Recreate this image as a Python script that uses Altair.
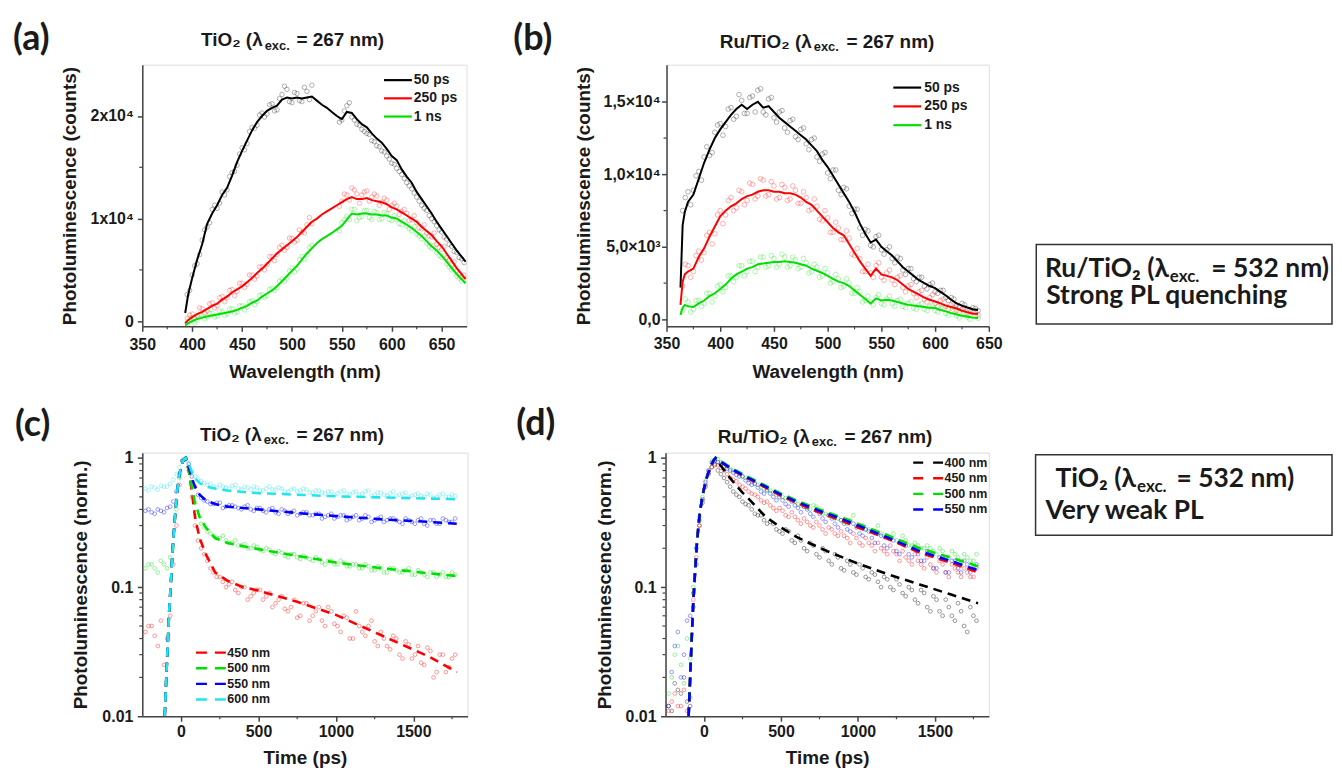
import altair as alt
import pandas as pd

AX_FONT = "Liberation Sans"
BOX_FONT = "Lato"
INK = "#1a1a1a"
FRAME = "#444444"
DUMMY = pd.DataFrame({"d": [0]})

# ---------------- Panel (a): TiO2 spectra ----------------
A_SERIES = ["50 ps", "250 ps", "1 ns"]
A_COLORS = ["#000000", "#ff0000", "#00e000"]
A_LINE_X = [393, 396] + list(range(400, 671, 5)) + [674]
A_LINE_50PS = [800, 2600,
               4200, 6000, 7500, 9500, 10500, 11300, 12300, 13000, 14200, 15500,
               16600, 17600, 18600, 19400, 20000, 20500, 20800, 21000, 21600, 21800,
               21700, 21800, 21700, 21800, 21900, 21500, 21100, 20800, 20400, 20000,
               19700, 20400, 20300, 19700, 19200, 18900, 18300, 17800, 17400, 16800,
               16100, 15700, 14800, 14100, 13500, 12600, 11900, 11200, 10500, 9700,
               9000, 8300, 7600, 6900, 6300,
               5800]
A_LINE_250PS = [-200, 100,
                400, 700, 900, 1200, 1500, 1700, 2100, 2400, 2800, 3100,
                3400, 3800, 4200, 4700, 5100, 5600, 6100, 6600, 7000, 7400,
                7800, 8200, 8700, 9200, 9700, 10000, 10400, 10700, 11000, 11300,
                11600, 11900, 12100, 11900, 11900, 12000, 11800, 11700, 11600, 11400,
                11100, 10900, 10600, 10300, 10000, 9700, 9200, 8800, 8400, 7800,
                7300, 6600, 5900, 5200, 4600,
                4100]
A_LINE_1NS = [-400, -200,
              0, 200, 350, 450, 550, 650, 750, 850, 950, 1100,
              1300, 1500, 1800, 2000, 2400, 2700, 3000, 3400, 3900, 4400,
              4900, 5400, 6000, 6600, 7100, 7600, 8000, 8300, 8600, 8950,
              9300, 9900, 10500, 10400, 10500, 10500, 10400, 10400, 10300, 10300,
              10100, 10000, 9700, 9400, 9100, 8700, 8300, 7800, 7300, 6900,
              6400, 5800, 5200, 4600, 4100,
              3700]
A_PTS_X = list(range(395, 671, 5))
A_PTS_50PS = [2600, 4500, 5600, 7900, 9200, 10900, 11000, 12600, 12800, 14500,
              15200, 16900, 17300, 18900, 19100, 20300, 20200, 21200, 20600, 22100,
              22600, 21300, 22200, 21400, 22400, 23000, None, None, None, None,
              None, 19600, 21000, 19900, 19200, 18700, 18300, 17600, 17100, 16600,
              16100, 15400, 14900, 14300, 13500, 12900, 12100, 11300, 10800, 10000,
              9300, 8700, 8000, 7300, 6700, 6100]
A_PTS_250PS = [300, 700, 500, 1200, 1000, 1800, 1500, 2400, 2300, 3100,
               2900, 3700, 3600, 4500, 4400, 5300, 5500, 6300, 6500, 7400,
               7200, 8100, 7900, 8700, 9400, 9500, None, None, None, None,
               None, 11700, 12300, 13000, 12400, 12300, 12700, 12100, 12200, 11600,
               11800, 11300, 11200, 10700, 10500, 9900, 9600, 9000, 8600, 8200,
               7500, 7000, 6200, 5500, 4900, 4300]
A_PTS_1NS = [-100, 300, 100, 600, 400, 800, 500, 900, 700, 1200,
             900, 1500, 1400, 2000, 1900, 2600, 2500, 3200, 3300, 4100,
             4200, 5200, 5100, 6300, 6500, 7400, None, None, None, None,
             None, 9600, 10200, 10900, 9800, 10200, 10800, 9900, 10600, 10000,
             10500, 9800, 9900, 9400, 9300, 8800, 8500, 8000, 7600, 7100,
             6700, 6200, 5600, 5000, 4400, 3900]
A_PTS2_X = [397.5 + 5 * i for i in range(56)]
A_PTS2_50PS = [3000, 5400, 6500, 8900, 9600, 11300, 11500, 12300, 14100, 14600,
               16300, 16700, 18500, 18800, 20100, 19900, 21100, 20500, 21700, 22900,
               21400, 22300, 21500, 22800, 21600, None, None, None, None, None,
               19400, 20500, 21300, 19600, 19100, 18500, 18200, 17500, 17000, 16500,
               15800, 15300, 14600, 13900, 13200, 12500, 11700, 11000, 10300, 9700,
               8900, 8200, 7500, 6800, 6200, 5700]
A_PTS2_250PS = [600, 300, 1300, 800, 1700, 1300, 2300, 1900, 3000, 2500,
                3700, 3300, 4500, 4100, 5300, 5000, 6300, 5900, 7200, 6900,
                8100, 7700, 8900, 8600, 10100, None, None, None, None, None,
                11200, 12400, 11800, 12800, 11500, 12600, 11700, 12400, 11300, 12000,
                10900, 11500, 10400, 10900, 9800, 10300, 9100, 9400, 8300, 8600,
                7200, 7300, 6000, 5800, 4700, 4500]
A_PTS2_1NS = [200, -200, 600, 200, 800, 400, 1000, 600, 1200, 800,
              1500, 1100, 1900, 1600, 2500, 2300, 3100, 3000, 3900, 3900,
              4900, 4800, 6000, 6000, 7200, None, None, None, None, None,
              8800, 9900, 9900, 10900, 10100, 10800, 10100, 10700, 9900, 10600,
              9900, 10300, 9500, 9800, 9000, 9200, 8300, 8300, 7300, 7400,
              6400, 6400, 5300, 5100, 4200, 4100]
A_X_TICKS = [350, 400, 450, 500, 550, 600, 650]
A_X_LABELS = ["350", "400", "450", "500", "550", "600", "650"]
A_X_MINOR = [375, 425, 475, 525, 575, 625]
A_Y_TICKS = [0, 10000, 20000]
A_Y_LABELS = ["0", "1x10⁴", "2x10⁴"]
A_Y_MINOR = [5000, 15000]

# ---------------- Panel (b): Ru/TiO2 spectra ----------------
B_LINE_X = [363, 365, 367] + list(range(370, 641, 5))
B_LINE_50PS = [2200, 6500, 7400,
               8100, 8600, 9700, 10800, 11700, 12500, 13100, 13600, 14100, 14500,
               14800, 14500, 14800, 15000, 14600, 14700, 14300, 13900, 13600, 13300,
               13000, 12700, 12400, 12000, 11600, 11000, 10500, 9900, 9300, 8700,
               8100, 7400, 6600, 5900, 5300, 5500, 5000, 4700, 4400, 4000,
               3600, 3300, 3000, 2700, 2500, 2300, 2150, 1900, 1650, 1350,
               1100, 950, 820, 700, 650]
B_LINE_250PS = [1000, 2600, 3100,
                3300, 3500, 4300, 4900, 5700, 6400, 7100, 7500, 7800, 8000,
                8300, 8500, 8600, 8800, 8900, 8900, 8800, 8800, 8700, 8700,
                8600, 8400, 8100, 7900, 7500, 7100, 6700, 6300, 6000, 5800,
                5200, 4600, 4000, 3500, 3000, 3500, 3100, 3000, 2900, 2700,
                2400, 2100, 1900, 1700, 1500, 1350, 1230, 1100, 950, 850,
                750, 600, 480, 400, 370]
B_LINE_1NS = [300, 800, 1000,
              900, 850, 1100, 1300, 1600, 1800, 2100, 2400, 2800, 3100,
              3300, 3500, 3600, 3800, 3850, 3900, 3950, 3950, 4000, 3950,
              3900, 3800, 3700, 3500, 3350, 3200, 3000, 2800, 2600, 2500,
              2300, 2000, 1700, 1400, 1100, 1450, 1300, 1350, 1300, 1200,
              1100, 1000, 950, 900, 850, 800, 780, 650, 550, 430,
              330, 250, 180, 120, 100]
B_PTS_X = list(range(365, 641, 5))
B_PTS_50PS = [7500, 8800, 8900, 10200, 11200, 11300, 12900, 13500, 13300, 14600,
              14000, 15100, 14200, 15400, 15800, 14300, 15200, 13900, 14300, 13200,
              13700, 12600, 13100, 12100, 12400, 11200, 11400, 10100, 10300, 8900,
              9100, 7800, 7600, 6300, 6200, 5100, 5700, 4800, 4800, 4200,
              4300, 3400, 3500, 2800, 2900, 2300, 2400, 1900, 2000, 1500,
              1500, 1000, 1100, 700, 800, 600]
B_PTS_250PS = [2300, 3700, 3300, 4700, 4600, 6000, 5900, 7500, 7200, 8400,
               7700, 8800, 8200, 9300, 8500, 9600, 8600, 9200, 8400, 9100,
               8300, 8900, 8000, 8400, 7600, 7800, 6800, 7000, 6000, 6300,
               5500, 5600, 4400, 4200, 3300, 3200, 3700, 2900, 3200, 2700,
               2900, 2200, 2300, 1800, 1900, 1400, 1500, 1100, 1300, 900,
               1000, 600, 700, 400, 500, 300]
B_PTS_1NS = [600, 1200, 700, 1300, 1100, 1800, 1600, 2400, 2200, 3000,
             2900, 3700, 3300, 4000, 3600, 4300, 3700, 4200, 3800, 4300,
             3700, 4100, 3600, 3900, 3300, 3600, 3000, 3200, 2600, 2800,
             2300, 2500, 1800, 1900, 1300, 1200, 1500, 1100, 1400, 1100,
             1300, 900, 1100, 800, 1000, 700, 900, 600, 800, 400,
             600, 250, 400, 150, 250, 80]
B_PTS2_X = [367.5 + 5 * i for i in range(55)]
B_PTS2_50PS = [8400, 7900, 9900, 9600, 11900, 11500, 13400, 12700, 14500, 13800,
               15500, 14200, 15300, 14300, 15900, 14100, 15300, 13600, 14400, 12900,
               13800, 12400, 13200, 11700, 12500, 10900, 11500, 9700, 10300, 8600,
               9000, 7300, 7600, 5800, 6100, 5000, 5800, 4500, 5000, 3900,
               4200, 3100, 3500, 2600, 2900, 2100, 2500, 1800, 2000, 1300,
               1400, 900, 1000, 650, 750]
B_PTS2_250PS = [3800, 2900, 4400, 4100, 5800, 5200, 7200, 6600, 8200, 7500,
                8900, 7900, 9400, 8300, 9700, 8500, 9500, 8300, 9300, 8200,
                9200, 8000, 8800, 7500, 8300, 6900, 7500, 6000, 6700, 5500,
                6100, 4500, 4900, 3300, 3800, 2900, 3900, 2700, 3400, 2400,
                3000, 1900, 2400, 1500, 2000, 1200, 1700, 900, 1400, 700,
                1100, 500, 800, 300, 500]
B_PTS2_1NS = [1400, 500, 1300, 900, 1800, 1200, 2300, 1900, 3000, 2600,
              3700, 3000, 4000, 3300, 4300, 3600, 4400, 3600, 4500, 3600,
              4300, 3500, 4200, 3200, 3800, 2900, 3500, 2500, 3100, 2200,
              2800, 1800, 2200, 1200, 1600, 1000, 1700, 1000, 1600, 900,
              1400, 800, 1200, 700, 1100, 600, 1000, 500, 800, 300,
              600, 100, 400, 0, 250]
B_X_TICKS = [350, 400, 450, 500, 550, 600, 650]
B_X_LABELS = ["350", "400", "450", "500", "550", "600", "650"]
B_X_MINOR = [375, 425, 475, 525, 575, 625]
B_Y_TICKS = [0, 5000, 10000, 15000]
B_Y_LABELS = ["0,0", "5,0×10³", "1,0×10⁴", "1,5×10⁴"]
B_Y_MINOR = [2500, 7500, 12500]

# ---------------- Panel (c): TiO2 kinetics ----------------
C_SERIES = ["450 nm", "500 nm", "550 nm", "600 nm"]
C_COLORS = ["#ff0000", "#00e000", "#0000ff", "#22e4f0"]
C_FIT_T = [-105, -95, -85, -77, -65, -56, -45, -35, -24, -10, 5, 20, 30,
           50, 70, 90, 120, 160, 220, 300, 400, 500, 750, 1000, 1300, 1600, 1780]
C_FIT_450 = [0.01, 0.02, 0.038, 0.063, 0.11, 0.18, 0.28, 0.4, 0.56, 0.75, 0.9, 0.98, 1.0,
             0.8, 0.55, 0.35, 0.24, 0.18, 0.13, 0.112, 0.1, 0.094, 0.077, 0.061, 0.042, 0.029, 0.022]
C_FIT_500 = [0.01, 0.02, 0.038, 0.063, 0.11, 0.18, 0.28, 0.4, 0.56, 0.75, 0.9, 0.98, 1.0,
             0.8, 0.6, 0.45, 0.35, 0.29, 0.24, 0.22, 0.207, 0.197, 0.175, 0.155, 0.14, 0.128, 0.122]
C_FIT_550 = [0.01, 0.02, 0.038, 0.063, 0.11, 0.18, 0.28, 0.4, 0.56, 0.75, 0.9, 0.98, 1.0,
             0.85, 0.7, 0.6, 0.52, 0.47, 0.44, 0.42, 0.41, 0.40, 0.375, 0.355, 0.335, 0.32, 0.31]
C_FIT_600 = [0.01, 0.02, 0.038, 0.063, 0.11, 0.18, 0.28, 0.4, 0.56, 0.75, 0.9, 0.98, 1.0,
             0.9, 0.78, 0.7, 0.64, 0.6, 0.58, 0.56, 0.545, 0.535, 0.52, 0.505, 0.495, 0.485, 0.48]
SCATTER_T = list(range(-230, 1771, 40))
SCATTER_T2 = list(range(-210, 1751, 40))
C_PTS_450 = [0.045, 0.05, 0.035, 0.025, 0.06, 0.3, 0.95, 0.8, 0.3, 0.2,
             0.16, 0.13, 0.12, 0.1, 0.11, 0.09, 0.1, 0.085, 0.095, 0.08,
             0.09, 0.075, 0.085, 0.065, 0.08, 0.06, 0.075, 0.06, 0.07, 0.05,
             0.065, 0.05, 0.06, 0.04, 0.065, 0.045, 0.05, 0.038, 0.045, 0.035,
             0.042, 0.03, 0.038, 0.028, 0.035, 0.025, 0.032, 0.022, 0.03, 0.024,
             0.03]
C_PTS_500 = [0.14, 0.15, 0.13, 0.15, 0.17, 0.4, 0.95, 0.85, 0.45, 0.31,
             0.27, 0.25, 0.24, 0.23, 0.22, 0.21, 0.215, 0.2, 0.205, 0.19,
             0.195, 0.18, 0.185, 0.17, 0.18, 0.165, 0.17, 0.16, 0.165, 0.15,
             0.16, 0.15, 0.155, 0.145, 0.15, 0.14, 0.145, 0.135, 0.14, 0.13,
             0.14, 0.13, 0.135, 0.125, 0.135, 0.125, 0.13, 0.12, 0.13, 0.12,
             0.125]
C_PTS_550 = [0.39, 0.38, 0.4, 0.38, 0.42, 0.55, 0.95, 0.9, 0.6, 0.49,
             0.46, 0.44, 0.45, 0.42, 0.43, 0.41, 0.42, 0.4, 0.41, 0.39,
             0.4, 0.38, 0.4, 0.37, 0.39, 0.37, 0.38, 0.36, 0.37, 0.35,
             0.37, 0.35, 0.36, 0.34, 0.36, 0.34, 0.35, 0.33, 0.35, 0.33,
             0.34, 0.32, 0.34, 0.32, 0.33, 0.31, 0.33, 0.31, 0.34, 0.32,
             0.34]
C_PTS_600 = [0.58, 0.6, 0.57, 0.6, 0.63, 0.75, 0.97, 0.92, 0.72, 0.66,
             0.62, 0.6, 0.62, 0.59, 0.61, 0.58, 0.6, 0.57, 0.59, 0.56,
             0.6, 0.57, 0.58, 0.55, 0.58, 0.56, 0.57, 0.54, 0.56, 0.53,
             0.55, 0.53, 0.56, 0.52, 0.55, 0.53, 0.56, 0.52, 0.54, 0.51,
             0.55, 0.52, 0.54, 0.51, 0.53, 0.5, 0.52, 0.5, 0.53, 0.5,
             0.51]
C_PTS2_450 = [0.05, 0.042, 0.055, 0.04, 0.15, 0.62, 0.98, 0.5, 0.23, 0.18,
              0.14, 0.12, 0.11, 0.105, 0.095, 0.1, 0.08, 0.09, 0.095, 0.085,
              0.07, 0.08, 0.068, 0.07, 0.058, 0.075, 0.055, 0.065, 0.055, 0.07,
              0.052, 0.045, 0.058, 0.04, 0.05, 0.042, 0.055, 0.035, 0.04, 0.033,
              0.04, 0.028, 0.036, 0.03, 0.026, 0.034, 0.02, 0.03, 0.022, 0.028]
C_PTS2_500 = [0.15, 0.14, 0.16, 0.14, 0.2, 0.7, 1.0, 0.62, 0.36, 0.29,
              0.26, 0.24, 0.25, 0.22, 0.23, 0.21, 0.2, 0.21, 0.195, 0.2,
              0.185, 0.19, 0.175, 0.18, 0.17, 0.175, 0.165, 0.17, 0.155, 0.16,
              0.15, 0.16, 0.145, 0.15, 0.14, 0.15, 0.135, 0.145, 0.13, 0.14,
              0.135, 0.13, 0.14, 0.125, 0.13, 0.12, 0.13, 0.125, 0.12, 0.13]
C_PTS2_550 = [0.4, 0.37, 0.39, 0.41, 0.46, 0.75, 0.98, 0.72, 0.52, 0.47,
              0.44, 0.45, 0.41, 0.43, 0.42, 0.4, 0.43, 0.39, 0.41, 0.38,
              0.41, 0.37, 0.39, 0.38, 0.36, 0.38, 0.36, 0.37, 0.34, 0.36,
              0.34, 0.36, 0.33, 0.35, 0.33, 0.36, 0.32, 0.34, 0.32, 0.34,
              0.33, 0.31, 0.33, 0.31, 0.34, 0.3, 0.33, 0.31, 0.33, 0.32]
C_PTS2_600 = [0.56, 0.59, 0.61, 0.6, 0.68, 0.85, 1.0, 0.8, 0.69, 0.64,
              0.63, 0.59, 0.6, 0.58, 0.62, 0.57, 0.59, 0.6, 0.56, 0.58,
              0.57, 0.59, 0.55, 0.57, 0.55, 0.58, 0.54, 0.56, 0.54, 0.55,
              0.52, 0.55, 0.53, 0.54, 0.52, 0.55, 0.51, 0.54, 0.52, 0.53,
              0.51, 0.53, 0.5, 0.52, 0.51, 0.53, 0.49, 0.52, 0.5, 0.52]

# ---------------- Panel (d): Ru/TiO2 kinetics ----------------
D_SERIES = ["400 nm", "450 nm", "500 nm", "550 nm"]
D_COLORS = ["#000000", "#ff0000", "#00e000", "#0000ff"]
D_FIT_T = [-100, -90, -80, -70, -60, -45, -30, -15, 0, 20, 40, 60, 75,
           100, 150, 200, 250, 300, 400, 500, 600, 700, 800, 900, 1000, 1200, 1400, 1600, 1780]
D_FIT_400 = [0.01, 0.02, 0.04, 0.075, 0.12, 0.23, 0.35, 0.47, 0.58, 0.72, 0.84, 0.95, 1.0,
             0.9, 0.75, 0.63, 0.54, 0.47, 0.35, 0.29, 0.245, 0.215, 0.19, 0.17, 0.152, 0.125, 0.105, 0.088, 0.075]
D_FIT_450 = [0.01, 0.02, 0.04, 0.075, 0.12, 0.23, 0.35, 0.47, 0.58, 0.72, 0.84, 0.95, 1.0,
             0.95, 0.86, 0.79, 0.73, 0.68, 0.59, 0.51, 0.45, 0.40, 0.36, 0.325, 0.29, 0.235, 0.185, 0.155, 0.13]
D_FIT_500 = [0.01, 0.02, 0.04, 0.075, 0.12, 0.23, 0.35, 0.47, 0.58, 0.72, 0.84, 0.95, 1.0,
             0.96, 0.88, 0.81, 0.75, 0.7, 0.61, 0.53, 0.47, 0.42, 0.38, 0.345, 0.31, 0.25, 0.2, 0.17, 0.145]
D_FIT_550 = [0.01, 0.02, 0.04, 0.075, 0.12, 0.23, 0.35, 0.47, 0.58, 0.72, 0.84, 0.95, 1.0,
             0.95, 0.87, 0.8, 0.74, 0.69, 0.6, 0.52, 0.46, 0.41, 0.37, 0.335, 0.30, 0.24, 0.19, 0.16, 0.135]
D_PTS_400 = [0.012, 0.018, 0.015, 0.013, 0.07, 0.3, 0.6, 0.85, 0.8, 0.7,
             0.6, 0.52, 0.46, 0.43, 0.37, 0.36, 0.31, 0.31, 0.27, 0.28,
             0.23, 0.25, 0.2, 0.22, 0.18, 0.2, 0.16, 0.18, 0.14, 0.16,
             0.13, 0.15, 0.12, 0.13, 0.11, 0.12, 0.1, 0.115, 0.09, 0.1,
             0.08, 0.095, 0.07, 0.085, 0.065, 0.08, 0.06, 0.075, 0.05, 0.07,
             0.055]
D_PTS_450 = [0.011, 0.015, 0.012, 0.011, 0.08, 0.3, 0.62, 0.85, 0.88, 0.8,
             0.7, 0.66, 0.6, 0.55, 0.52, 0.47, 0.46, 0.41, 0.41, 0.36,
             0.38, 0.33, 0.34, 0.3, 0.32, 0.28, 0.29, 0.26, 0.27, 0.24,
             0.26, 0.22, 0.24, 0.21, 0.22, 0.19, 0.21, 0.18, 0.19, 0.16,
             0.18, 0.15, 0.17, 0.14, 0.16, 0.13, 0.15, 0.13, 0.14, 0.12,
             0.14]
D_PTS_500 = [0.015, 0.03, 0.025, 0.04, 0.1, 0.35, 0.67, 0.95, 0.98, 0.9,
             0.82, 0.78, 0.72, 0.68, 0.64, 0.6, 0.57, 0.54, 0.52, 0.49,
             0.47, 0.44, 0.42, 0.4, 0.42, 0.37, 0.36, 0.34, 0.33, 0.31,
             0.36, 0.29, 0.28, 0.27, 0.3, 0.25, 0.24, 0.23, 0.25, 0.21,
             0.22, 0.2, 0.21, 0.19, 0.2, 0.17, 0.19, 0.17, 0.18, 0.16,
             0.18]
D_PTS_550 = [0.012, 0.035, 0.02, 0.055, 0.09, 0.33, 0.65, 0.92, 0.93, 0.86,
             0.8, 0.74, 0.72, 0.64, 0.63, 0.55, 0.56, 0.5, 0.5, 0.44,
             0.46, 0.41, 0.42, 0.37, 0.39, 0.34, 0.36, 0.31, 0.33, 0.28,
             0.31, 0.26, 0.28, 0.24, 0.26, 0.21, 0.24, 0.19, 0.22, 0.18,
             0.2, 0.16, 0.19, 0.14, 0.17, 0.13, 0.16, 0.14, 0.16, 0.13,
             0.15]
D_PTS2_400 = [0.011, 0.016, 0.02, 0.012, 0.15, 0.45, 0.75, 0.88, 0.75, 0.65,
              0.55, 0.5, 0.44, 0.4, 0.36, 0.33, 0.32, 0.28, 0.26, 0.27,
              0.22, 0.23, 0.19, 0.21, 0.17, 0.19, 0.15, 0.17, 0.135, 0.15,
              0.125, 0.14, 0.115, 0.125, 0.1, 0.115, 0.095, 0.105, 0.085, 0.095,
              0.075, 0.09, 0.065, 0.08, 0.06, 0.07, 0.055, 0.065, 0.045, 0.06]
D_PTS2_450 = [0.013, 0.012, 0.016, 0.014, 0.17, 0.47, 0.77, 0.9, 0.84, 0.75,
              0.68, 0.62, 0.58, 0.53, 0.5, 0.45, 0.43, 0.39, 0.39, 0.35,
              0.35, 0.31, 0.32, 0.29, 0.3, 0.26, 0.28, 0.25, 0.25, 0.22,
              0.24, 0.21, 0.22, 0.19, 0.2, 0.18, 0.19, 0.16, 0.17, 0.15,
              0.16, 0.14, 0.15, 0.13, 0.15, 0.12, 0.14, 0.12, 0.13, 0.12]
D_PTS2_500 = [0.02, 0.035, 0.018, 0.028, 0.2, 0.5, 0.8, 0.97, 0.93, 0.86,
              0.8, 0.75, 0.7, 0.66, 0.62, 0.58, 0.56, 0.52, 0.5, 0.48,
              0.46, 0.43, 0.41, 0.43, 0.38, 0.37, 0.35, 0.34, 0.32, 0.33,
              0.3, 0.3, 0.28, 0.27, 0.26, 0.25, 0.26, 0.22, 0.23, 0.21,
              0.21, 0.2, 0.2, 0.18, 0.19, 0.17, 0.18, 0.16, 0.17, 0.16]
D_PTS2_550 = [0.022, 0.045, 0.03, 0.06, 0.2, 0.48, 0.8, 0.95, 0.9, 0.83,
              0.77, 0.72, 0.67, 0.62, 0.59, 0.53, 0.53, 0.47, 0.47, 0.42,
              0.43, 0.38, 0.4, 0.35, 0.37, 0.32, 0.34, 0.29, 0.31, 0.27,
              0.29, 0.25, 0.27, 0.22, 0.25, 0.2, 0.23, 0.18, 0.21, 0.17,
              0.18, 0.16, 0.18, 0.14, 0.17, 0.13, 0.16, 0.13, 0.15, 0.14]
T_X_TICKS = [0, 500, 1000, 1500]
T_X_LABELS = ["0", "500", "1000", "1500"]
T_X_MINOR = [250, 750, 1250, 1750]
T_Y_TICKS = [0.01, 0.1, 1]
T_Y_LABELS = ["0.01", "0.1", "1"]
T_Y_MINOR = [0.02, 0.03, 0.04, 0.05, 0.06, 0.07, 0.08, 0.09,
             0.2, 0.3, 0.4, 0.5, 0.6, 0.7, 0.8, 0.9]


def label_expr(values, labels):
    parts = [f"datum.value == {v} ? '{l}'" for v, l in zip(values, labels)]
    return " : ".join(parts) + " : ''"


AX = dict(labelFont=AX_FONT, labelFontSize=16, labelFontWeight="bold", labelColor=INK,
          titleFont=AX_FONT, titleFontSize=19, titleFontWeight="bold", titleColor=INK,
          tickSize=5, tickWidth=1.5, tickColor=FRAME, domainColor=FRAME, domainWidth=1.5,
          grid=False, labelOverlap=False, labelFlush=False)


def txt(s, x, y, size, align="left", font=AX_FONT, baseline="alphabetic"):
    return alt.Chart(DUMMY).mark_text(
        text=s, align=align, baseline=baseline, font=font, fontSize=size,
        fontWeight="bold", color=INK).encode(x=alt.value(x), y=alt.value(y))


def panel(cfg):
    W, H = cfg["w"], cfg["h"]
    xscale = alt.Scale(domain=cfg["xdom"], nice=False, zero=False)
    if cfg["ylog"]:
        yscale = alt.Scale(type="log", domain=cfg["ydom"], nice=False)
    else:
        yscale = alt.Scale(domain=cfg["ydom"], nice=False, zero=False)
    xax = alt.Axis(values=cfg["xt"], labelExpr=label_expr(cfg["xt"], cfg["xl"]),
                   title=cfg["xtitle"], titleY=cfg["xty"], titleBaseline="alphabetic",
                   labelPadding=cfg["xlp"], **AX)
    yax = alt.Axis(values=cfg["yt"], labelExpr=label_expr(cfg["yt"], cfg["yl"]),
                   title=cfg["ytitle"], titleX=cfg["ytx"], titleAngle=270,
                   titleBaseline="alphabetic", labelPadding=cfg["ylp"], **AX)
    xe = alt.X("x:Q", scale=xscale, axis=xax)
    ye = alt.Y("y:Q", scale=yscale, axis=yax)
    layers = []
    for px, py, col in cfg["points"]:
        df = pd.DataFrame({"x": px, "y": py}).dropna()
        layers.append(alt.Chart(df).mark_point(
            shape="circle", filled=False, size=cfg["psize"], strokeWidth=0.9,
            opacity=cfg["popac"], color=col, clip=True).encode(x=xe, y=ye))
    for lx, ly, col in cfg["lines"]:
        df = pd.DataFrame({"x": lx, "y": ly})
        kw = dict(color=col, strokeWidth=cfg["lw"], clip=True)
        if cfg["dash"]:
            kw["strokeDash"] = cfg["dash"]
        layers.append(alt.Chart(df).mark_line(**kw).encode(x=xe, y=ye))
    # minor ticks
    layers.append(alt.Chart(pd.DataFrame({"x": cfg["xminor"]})).mark_rule(
        color=FRAME, strokeWidth=1.2).encode(x=xe, y=alt.value(H), y2=alt.value(H + 3)))
    layers.append(alt.Chart(pd.DataFrame({"y": cfg["yminor"]})).mark_rule(
        color=FRAME, strokeWidth=1.2).encode(y=ye, x=alt.value(0), x2=alt.value(-3)))
    # legend
    lg = cfg["legend"]
    for i, (name, col) in enumerate(zip(lg["names"], lg["colors"])):
        yy = lg["y0"] + i * lg["dy"]
        kw = dict(color=col, strokeWidth=lg["sw"])
        if lg["dash"]:
            kw["strokeDash"] = lg["dash"]
        layers.append(alt.Chart(DUMMY).mark_rule(**kw).encode(
            x=alt.value(lg["x0"]), x2=alt.value(lg["x1"]), y=alt.value(yy)))
        layers.append(txt(name, lg["tx"], yy, lg["fs"], baseline="middle"))
    # title pieces
    t = cfg["title"]
    layers.append(txt(t["main"], t["xr"], t["base"], 19, align="right"))
    layers.append(txt("exc.", t["xs"], t["base"] + 3.5, 13))
    layers.append(txt(t["rest"], t["xe"], t["base"], 19))
    # panel label
    layers.append(txt(cfg["tag"][0], cfg["tag"][1], cfg["tag"][2], 36, font=BOX_FONT))
    layers.extend(cfg.get("extra", []))
    return alt.layer(*layers).properties(width=W, height=H)


def text_box(x0, x1, y0, y1, pieces):
    out = [alt.Chart(DUMMY).mark_rect(fillOpacity=0, stroke="#333333", strokeWidth=1.5).encode(
        x=alt.value(x0), x2=alt.value(x1), y=alt.value(y0), y2=alt.value(y1))]
    for s, x, y, fs, al in pieces:
        out.append(txt(s, x, y, fs, align=al, font=BOX_FONT))
    return out


anchor = alt.Chart(DUMMY).mark_rect(opacity=0).encode(
    x=alt.value(-134), x2=alt.value(-133), y=alt.value(-54), y2=alt.value(-53))

pa = panel(dict(
    w=326, h=263, xdom=[350, 675], ydom=[-500, 25000], ylog=False,
    xt=A_X_TICKS, xl=A_X_LABELS, yt=A_Y_TICKS, yl=A_Y_LABELS,
    xtitle="Wavelength (nm)", ytitle="Photoluminescence (counts)",
    xty=51, ytx=-67, xlp=5, ylp=4,
    points=[(A_PTS_X, A_PTS_50PS, "#000000"), (A_PTS2_X, A_PTS2_50PS, "#000000"),
            (A_PTS_X, A_PTS_250PS, "#ff0000"), (A_PTS2_X, A_PTS2_250PS, "#ff0000"),
            (A_PTS_X, A_PTS_1NS, "#00e000"), (A_PTS2_X, A_PTS2_1NS, "#00e000")],
    lines=[(A_LINE_X, A_LINE_50PS, "#000000"), (A_LINE_X, A_LINE_250PS, "#ff0000"),
           (A_LINE_X, A_LINE_1NS, "#00e000")],
    psize=20, popac=0.35, lw=2, dash=None,
    xminor=A_X_MINOR, yminor=A_Y_MINOR,
    legend=dict(names=A_SERIES, colors=A_COLORS, x0=243, x1=271, tx=273, y0=15.5, dy=18.3,
                fs=14, sw=2.2, dash=None),
    title=dict(main="TiO₂ (λ", rest="= 267 nm)", xr=121, xs=123, xe=155, base=-18.5),
    tag=("(a)", -130, -15),
    extra=[anchor],
))

pb = panel(dict(
    w=324, h=263, xdom=[350, 650], ydom=[-480, 17560], ylog=False,
    xt=B_X_TICKS, xl=B_X_LABELS, yt=B_Y_TICKS, yl=B_Y_LABELS,
    xtitle="Wavelength (nm)", ytitle="Photoluminescence (counts)",
    xty=51, ytx=-77, xlp=4.5, ylp=1.5,
    points=[(B_PTS_X, B_PTS_50PS, "#000000"), (B_PTS2_X, B_PTS2_50PS, "#000000"),
            (B_PTS_X, B_PTS_250PS, "#ff0000"), (B_PTS2_X, B_PTS2_250PS, "#ff0000"),
            (B_PTS_X, B_PTS_1NS, "#00e000"), (B_PTS2_X, B_PTS2_1NS, "#00e000")],
    lines=[(B_LINE_X, B_LINE_50PS, "#000000"), (B_LINE_X, B_LINE_250PS, "#ff0000"),
           (B_LINE_X, B_LINE_1NS, "#00e000")],
    psize=22, popac=0.35, lw=2, dash=None,
    xminor=B_X_MINOR, yminor=B_Y_MINOR,
    legend=dict(names=A_SERIES, colors=A_COLORS, x0=228, x1=256, tx=259, y0=23, dy=18.9,
                fs=14, sw=2.2, dash=None),
    title=dict(main="Ru/TiO₂ (λ", rest="= 267 nm)", xr=146, xs=148, xe=181, base=-17),
    tag=("(b)", -154, -15),
    extra=text_box(371.7, 669, 180.7, 260.7, [
        ("Ru/TiO₂ (λ", 505, 213, 26.5, "right"),
        ("exc.", 506, 218, 17, "left"),
        ("= 532 nm)", 547.7, 213, 26.5, "left"),
        ("Strong PL quenching", 381.7, 240.7, 26.5, "left"),
    ]),
))

pc = panel(dict(
    w=327, h=265, xdom=[-250, 1850], ydom=[0.01, 1.1], ylog=True,
    xt=T_X_TICKS, xl=T_X_LABELS, yt=T_Y_TICKS, yl=T_Y_LABELS,
    xtitle="Time (ps)", ytitle="Photoluminescence (norm.)",
    xty=47, ytx=-56, xlp=2.5, ylp=4.5,
    points=[(SCATTER_T, C_PTS_450, C_COLORS[0]), (SCATTER_T2, C_PTS2_450, C_COLORS[0]),
            (SCATTER_T, C_PTS_500, C_COLORS[1]), (SCATTER_T2, C_PTS2_500, C_COLORS[1]),
            (SCATTER_T, C_PTS_550, C_COLORS[2]), (SCATTER_T2, C_PTS2_550, C_COLORS[2]),
            (SCATTER_T, C_PTS_600, C_COLORS[3]), (SCATTER_T2, C_PTS2_600, C_COLORS[3])],
    lines=[(C_FIT_T, C_FIT_450, C_COLORS[0]), (C_FIT_T, C_FIT_500, C_COLORS[1]),
           (C_FIT_T, C_FIT_550, C_COLORS[2]), (C_FIT_T, C_FIT_600, C_COLORS[3])],
    psize=14, popac=0.45, lw=2.6, dash=[9, 6],
    xminor=T_X_MINOR, yminor=T_Y_MINOR,
    legend=dict(names=C_SERIES, colors=C_COLORS, x0=54, x1=84, tx=85.5, y0=201, dy=15.7,
                fs=12.5, sw=2.4, dash=[11, 8]),
    title=dict(main="TiO₂ (λ", rest="= 267 nm)", xr=120, xs=122, xe=155, base=-12),
    tag=("(c)", -128, -17),
))

pd_ = panel(dict(
    w=325, h=265, xdom=[-250, 1850], ydom=[0.01, 1.1], ylog=True,
    xt=T_X_TICKS, xl=T_X_LABELS, yt=T_Y_TICKS, yl=T_Y_LABELS,
    xtitle="Time (ps)", ytitle="Photoluminescence (norm.)",
    xty=47, ytx=-55, xlp=2.5, ylp=4.5,
    points=[(SCATTER_T, D_PTS_400, D_COLORS[0]), (SCATTER_T2, D_PTS2_400, D_COLORS[0]),
            (SCATTER_T, D_PTS_450, D_COLORS[1]), (SCATTER_T2, D_PTS2_450, D_COLORS[1]),
            (SCATTER_T, D_PTS_500, D_COLORS[2]), (SCATTER_T2, D_PTS2_500, D_COLORS[2]),
            (SCATTER_T, D_PTS_550, D_COLORS[3]), (SCATTER_T2, D_PTS2_550, D_COLORS[3])],
    lines=[(D_FIT_T, D_FIT_400, D_COLORS[0]), (D_FIT_T, D_FIT_450, D_COLORS[1]),
           (D_FIT_T, D_FIT_500, D_COLORS[2]), (D_FIT_T, D_FIT_550, D_COLORS[3])],
    psize=14, popac=0.45, lw=2.6, dash=[9, 6],
    xminor=T_X_MINOR, yminor=T_Y_MINOR,
    legend=dict(names=D_SERIES, colors=D_COLORS, x0=249, x1=279, tx=280.5, y0=10, dy=15.7,
                fs=12.5, sw=2.4, dash=[10, 10]),
    title=dict(main="Ru/TiO₂ (λ", rest="= 267 nm)", xr=145, xs=147, xe=180, base=-10),
    tag=("(d)", -150, -18),
    extra=text_box(372, 670, 2, 83, [
        ("TiO₂ (λ", 473, 34.7, 26.5, "right"),
        ("exc.", 474, 39.7, 17, "left"),
        ("= 532 nm)", 513.7, 34.7, 26.5, "left"),
        ("Very weak PL", 382, 66.3, 26.5, "left"),
    ]),
))

top = alt.hconcat(pa, pb, spacing=201, bounds="flush")
bottom = alt.hconcat(pc, pd_, spacing=199, bounds="flush")
# with flush bounds the nested rows count as zero height, so the spacing spans row 1
chart = alt.vconcat(top, bottom, spacing=390, bounds="flush").properties(
    padding={"left": 0, "top": 0, "right": 0, "bottom": 0}
).configure_view(stroke=FRAME, strokeWidth=1.5).configure(background="white")

chart.save("out.html", embed_options={"renderer": "svg", "actions": False})
